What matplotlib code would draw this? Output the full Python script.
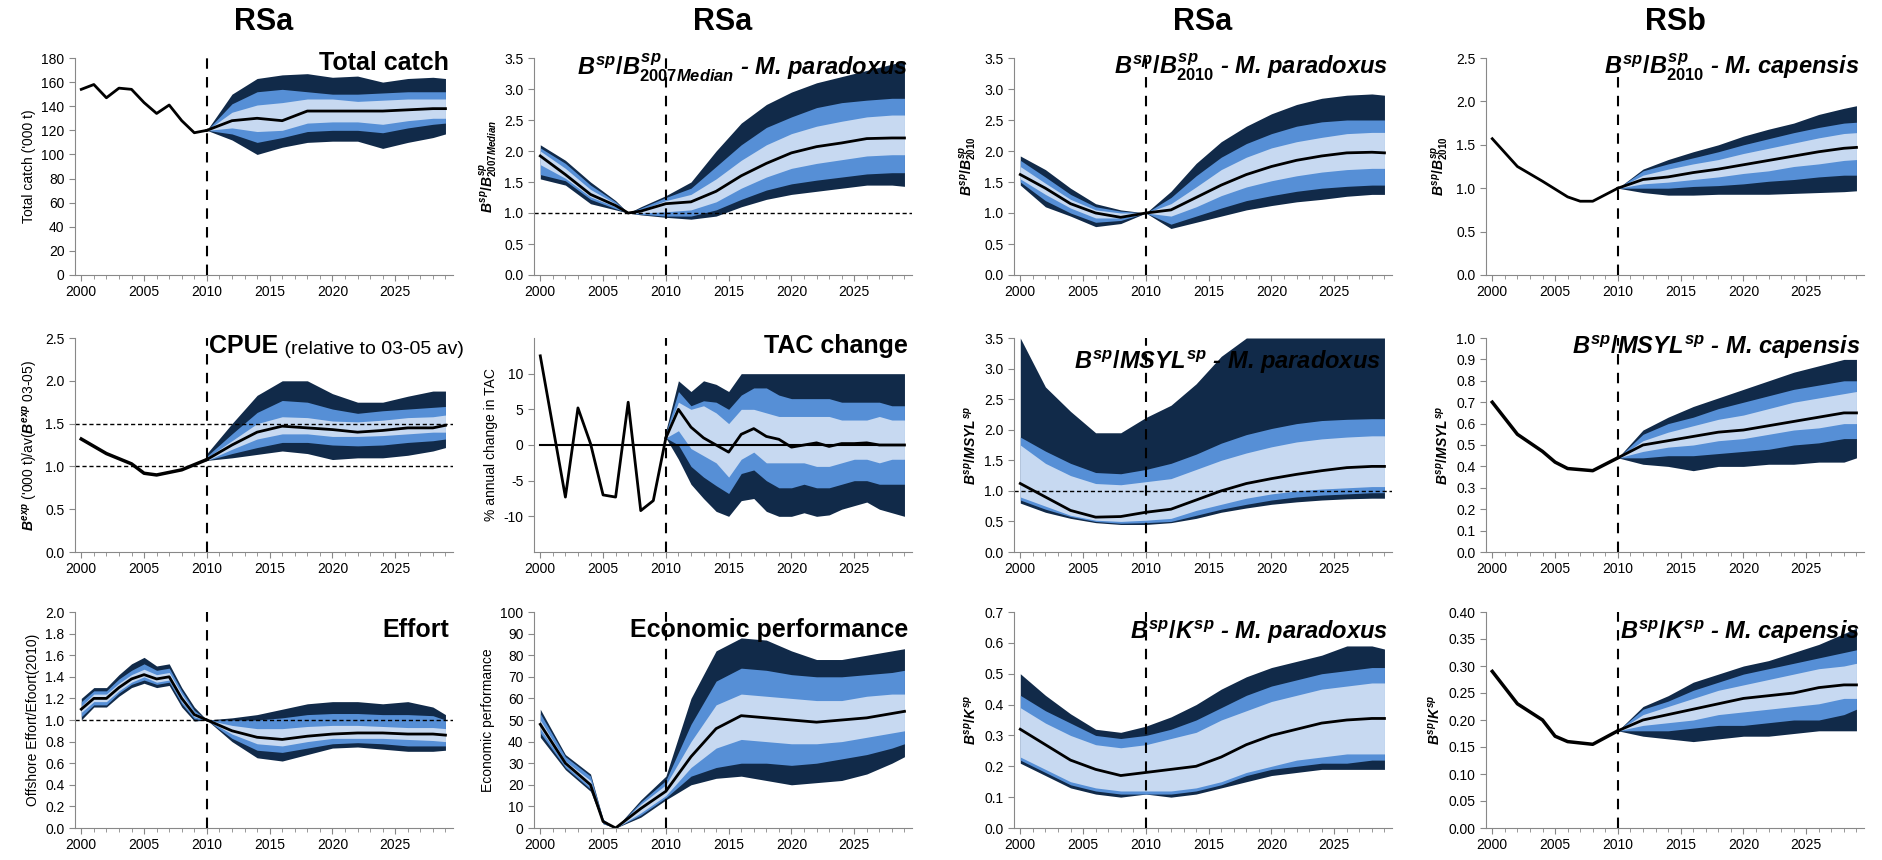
import matplotlib
matplotlib.use('Agg')
import matplotlib.pyplot as plt
import numpy as np

plt.rcParams['font.family'] = ['Liberation Sans', 'DejaVu Sans']
plt.rcParams['mathtext.fontset'] = 'custom'
plt.rcParams['mathtext.it'] = 'Liberation Sans:bold:italic'
plt.rcParams['mathtext.rm'] = 'Liberation Sans:bold'
plt.rcParams['mathtext.bf'] = 'Liberation Sans:bold'

DARK, MID, LIGHT = '#112a49', '#568fd6', '#c7d9f1'

# ---- data ----
P = [2010, 2012, 2014, 2016, 2018, 2020, 2022, 2024, 2026, 2028, 2029]
H1 = list(range(2000, 2011))
FULL = [2000, 2002, 2004, 2006, 2008, 2010, 2012, 2014, 2016, 2018, 2020, 2022, 2024, 2026, 2028, 2029]

# Total catch
catch_hist = [154, 158, 147, 155, 154, 143, 134, 141, 128, 118, 120]
catch_q = [[120, 112, 100, 106, 110, 111, 111, 105, 110, 114, 117],
           [120, 117, 110, 114, 119, 120, 120, 118, 122, 125, 126],
           [120, 122, 119, 120, 126, 127, 127, 125, 128, 130, 130],
           [120, 135, 141, 143, 146, 146, 144, 145, 146, 146, 146],
           [120, 142, 152, 154, 152, 150, 150, 151, 152, 152, 152],
           [120, 150, 163, 166, 167, 164, 165, 160, 163, 164, 163]]
catch_med = [120, 128, 130, 128, 136, 136, 136, 136, 137, 138, 138]

# Bsp/Bsp2007Median paradoxus
b07_yrs = [2000, 2002, 2004, 2006, 2007, 2008, 2010, 2012, 2014, 2016, 2018, 2020, 2022, 2024, 2026, 2028, 2029]
b07_med = [1.92, 1.62, 1.30, 1.12, 1.00, 1.03, 1.15, 1.18, 1.35, 1.60, 1.80, 1.97, 2.07, 2.13, 2.20, 2.21, 2.21]
b07_q = [[1.55, 1.45, 1.15, 1.05, 1.00, 0.97, 0.93, 0.90, 0.95, 1.10, 1.22, 1.30, 1.35, 1.40, 1.45, 1.45, 1.43],
         [1.62, 1.52, 1.22, 1.07, 1.00, 0.98, 0.95, 0.95, 1.05, 1.22, 1.37, 1.47, 1.53, 1.58, 1.63, 1.65, 1.65],
         [1.78, 1.56, 1.26, 1.10, 1.00, 1.00, 1.02, 1.05, 1.18, 1.40, 1.58, 1.72, 1.80, 1.86, 1.92, 1.94, 1.94],
         [2.00, 1.72, 1.38, 1.15, 1.00, 1.05, 1.20, 1.30, 1.55, 1.85, 2.10, 2.28, 2.40, 2.48, 2.55, 2.58, 2.58],
         [2.05, 1.80, 1.45, 1.18, 1.00, 1.08, 1.25, 1.40, 1.75, 2.10, 2.38, 2.55, 2.70, 2.78, 2.82, 2.85, 2.85],
         [2.10, 1.85, 1.50, 1.20, 1.00, 1.10, 1.28, 1.50, 2.00, 2.45, 2.75, 2.95, 3.10, 3.20, 3.30, 3.40, 3.45]]

# Bsp/Bsp2010 paradoxus
b10p_med = [1.62, 1.40, 1.15, 1.00, 0.93, 1.00, 1.05, 1.25, 1.45, 1.62, 1.75, 1.85, 1.92, 1.97, 1.98, 1.97]
b10p_q = [[1.45, 1.10, 0.95, 0.78, 0.83, 1.00, 0.75, 0.85, 0.95, 1.05, 1.12, 1.18, 1.22, 1.27, 1.30, 1.30],
          [1.50, 1.20, 1.00, 0.85, 0.88, 1.00, 0.82, 0.95, 1.08, 1.20, 1.28, 1.35, 1.40, 1.43, 1.45, 1.45],
          [1.55, 1.30, 1.08, 0.92, 0.92, 1.00, 0.95, 1.10, 1.28, 1.42, 1.52, 1.60, 1.66, 1.70, 1.72, 1.72],
          [1.75, 1.48, 1.22, 1.05, 1.00, 1.00, 1.15, 1.42, 1.70, 1.90, 2.05, 2.15, 2.22, 2.28, 2.30, 2.30],
          [1.85, 1.58, 1.30, 1.10, 1.03, 1.00, 1.25, 1.60, 1.90, 2.12, 2.28, 2.40, 2.47, 2.50, 2.50, 2.50],
          [1.92, 1.70, 1.40, 1.15, 1.05, 1.00, 1.35, 1.80, 2.15, 2.40, 2.60, 2.75, 2.85, 2.90, 2.92, 2.90]]

# Bsp/Bsp2010 capensis
b10c_hyrs = [2000, 2002, 2004, 2006, 2007, 2008, 2010]
b10c_hist = [1.57, 1.25, 1.08, 0.90, 0.85, 0.85, 1.00]
b10c_med = [1.0, 1.10, 1.13, 1.18, 1.22, 1.27, 1.32, 1.37, 1.42, 1.46, 1.47]
b10c_q = [[1.0, 0.95, 0.92, 0.92, 0.93, 0.93, 0.93, 0.94, 0.95, 0.96, 0.97],
          [1.0, 1.00, 1.00, 1.02, 1.03, 1.05, 1.08, 1.10, 1.13, 1.15, 1.15],
          [1.0, 1.05, 1.07, 1.10, 1.13, 1.17, 1.20, 1.25, 1.28, 1.32, 1.33],
          [1.0, 1.15, 1.22, 1.28, 1.33, 1.40, 1.46, 1.52, 1.58, 1.63, 1.64],
          [1.0, 1.20, 1.28, 1.35, 1.42, 1.50, 1.57, 1.64, 1.70, 1.75, 1.76],
          [1.0, 1.22, 1.33, 1.42, 1.50, 1.60, 1.68, 1.75, 1.85, 1.92, 1.95]]

# CPUE
cpue_hyrs = [2000, 2002, 2004, 2005, 2006, 2008, 2009, 2010]
cpue_hist = [1.32, 1.15, 1.03, 0.92, 0.90, 0.96, 1.02, 1.08]
cpue_med = [1.08, 1.25, 1.40, 1.47, 1.45, 1.43, 1.40, 1.42, 1.45, 1.45, 1.48]
cpue_q = [[1.07, 1.10, 1.14, 1.18, 1.15, 1.08, 1.10, 1.10, 1.13, 1.18, 1.22],
          [1.07, 1.15, 1.22, 1.28, 1.28, 1.25, 1.24, 1.25, 1.28, 1.30, 1.32],
          [1.07, 1.20, 1.32, 1.38, 1.38, 1.35, 1.35, 1.36, 1.38, 1.40, 1.40],
          [1.10, 1.30, 1.50, 1.58, 1.57, 1.53, 1.52, 1.54, 1.57, 1.58, 1.60],
          [1.12, 1.38, 1.63, 1.77, 1.75, 1.67, 1.62, 1.65, 1.67, 1.69, 1.70],
          [1.15, 1.50, 1.83, 2.00, 2.00, 1.85, 1.75, 1.75, 1.82, 1.88, 1.88]]

# TAC change
tac_hist = [12.5, 2.6, -7.3, 5.2, 0.2, -7.0, -7.3, 6.0, -9.2, -7.8, 1.0]
TP = list(range(2010, 2030))
tac_med = [1, 5, 2.5, 1, 0, -1, 1.5, 2.3, 1.2, 0.8, -0.3, 0, 0.3, -0.2, 0.2, 0.2, 0.3, 0, 0, 0]
tac_q = [[1, -2, -5.5, -7.5, -9.3, -10, -7.8, -7.5, -9.3, -10, -10, -9.5, -10, -9.8, -9, -8.5, -8, -9, -9.5, -10],
         [1, 0, -3, -4.5, -5.7, -6.8, -4, -3.5, -5, -6, -6, -5.5, -6, -6, -5.5, -5, -5, -5.5, -5.5, -5.5],
         [1, 2, -0.5, -1.5, -2.5, -4.5, -2, -1, -2.5, -2.5, -2.5, -2.5, -3, -3, -2.5, -2, -2, -2.5, -2, -2],
         [1.5, 6, 5, 5.5, 4.5, 3, 5, 5, 4.5, 4, 4, 4, 4, 4, 3.5, 3.5, 3.5, 4, 3.5, 3.5],
         [1.7, 7.5, 5.5, 6.2, 6, 5, 7, 8, 8, 7, 6.5, 6.5, 6.5, 6.5, 6, 6, 6, 6, 5.5, 5.5],
         [2, 9, 7.5, 9, 8.5, 7.5, 10, 10, 10, 10, 10, 10, 10, 10, 10, 10, 10, 10, 10, 10]]

# Bsp/MSYL paradoxus
msylp_med = [1.12, 0.90, 0.68, 0.57, 0.58, 0.65, 0.70, 0.85, 1.00, 1.12, 1.20, 1.27, 1.33, 1.38, 1.40, 1.40]
msylp_q = [[0.80, 0.65, 0.55, 0.48, 0.45, 0.45, 0.48, 0.55, 0.65, 0.72, 0.78, 0.82, 0.85, 0.87, 0.88, 0.88],
           [0.85, 0.70, 0.58, 0.50, 0.47, 0.48, 0.50, 0.60, 0.70, 0.78, 0.85, 0.90, 0.93, 0.95, 0.97, 0.97],
           [0.90, 0.75, 0.60, 0.52, 0.50, 0.52, 0.55, 0.68, 0.78, 0.88, 0.95, 1.00, 1.03, 1.05, 1.07, 1.07],
           [1.75, 1.45, 1.25, 1.12, 1.10, 1.15, 1.20, 1.35, 1.50, 1.62, 1.72, 1.80, 1.85, 1.88, 1.90, 1.90],
           [1.88, 1.65, 1.45, 1.30, 1.28, 1.35, 1.45, 1.60, 1.78, 1.92, 2.02, 2.10, 2.15, 2.17, 2.18, 2.18],
           [3.50, 2.70, 2.30, 1.95, 1.95, 2.20, 2.40, 2.75, 3.20, 3.50, 3.50, 3.50, 3.50, 3.50, 3.50, 3.50]]

# Bsp/MSYL capensis
msylc_hyrs = [2000, 2002, 2004, 2005, 2006, 2008, 2010]
msylc_hist = [0.70, 0.55, 0.47, 0.42, 0.39, 0.38, 0.44]
msylc_med = [0.44, 0.50, 0.52, 0.54, 0.56, 0.57, 0.59, 0.61, 0.63, 0.65, 0.65]
msylc_q = [[0.44, 0.41, 0.40, 0.38, 0.40, 0.40, 0.41, 0.41, 0.42, 0.42, 0.44],
           [0.44, 0.44, 0.45, 0.45, 0.46, 0.47, 0.48, 0.50, 0.51, 0.53, 0.53],
           [0.44, 0.47, 0.49, 0.50, 0.52, 0.53, 0.55, 0.57, 0.58, 0.60, 0.60],
           [0.44, 0.52, 0.56, 0.59, 0.62, 0.64, 0.67, 0.70, 0.72, 0.74, 0.75],
           [0.44, 0.55, 0.60, 0.63, 0.67, 0.70, 0.73, 0.76, 0.78, 0.80, 0.80],
           [0.44, 0.57, 0.63, 0.68, 0.72, 0.76, 0.80, 0.84, 0.87, 0.90, 0.90]]

# Effort
eff_med_h = [1.10, 1.20, 1.20, 1.30, 1.38, 1.42, 1.38, 1.40, 1.20, 1.05, 1.00]
eff_q_h = [[1.00, 1.12, 1.12, 1.22, 1.30, 1.34, 1.30, 1.32, 1.12, 0.99, 1.00],
           [1.03, 1.14, 1.14, 1.25, 1.33, 1.37, 1.33, 1.35, 1.15, 1.01, 1.00],
           [1.07, 1.17, 1.17, 1.27, 1.35, 1.40, 1.35, 1.37, 1.17, 1.03, 1.00],
           [1.13, 1.24, 1.24, 1.34, 1.42, 1.47, 1.42, 1.44, 1.24, 1.07, 1.00],
           [1.17, 1.27, 1.27, 1.38, 1.46, 1.52, 1.46, 1.48, 1.27, 1.09, 1.00],
           [1.20, 1.30, 1.30, 1.42, 1.52, 1.58, 1.50, 1.52, 1.30, 1.12, 1.00]]
eff_med = [1.0, 0.90, 0.84, 0.82, 0.85, 0.87, 0.88, 0.88, 0.87, 0.87, 0.86]
eff_q = [[1.0, 0.80, 0.65, 0.62, 0.68, 0.74, 0.75, 0.73, 0.71, 0.71, 0.72],
         [1.0, 0.83, 0.72, 0.70, 0.74, 0.78, 0.79, 0.78, 0.76, 0.76, 0.76],
         [1.0, 0.87, 0.78, 0.76, 0.80, 0.83, 0.83, 0.83, 0.82, 0.81, 0.80],
         [1.0, 0.95, 0.92, 0.92, 0.94, 0.95, 0.95, 0.94, 0.93, 0.93, 0.92],
         [1.0, 1.00, 1.00, 1.02, 1.05, 1.06, 1.06, 1.05, 1.05, 1.04, 1.00],
         [1.0, 1.02, 1.05, 1.10, 1.15, 1.17, 1.17, 1.15, 1.17, 1.12, 1.05]]

# Economic performance
eco_yrs = [2000, 2002, 2004, 2005, 2006, 2008, 2010, 2012, 2014, 2016, 2018, 2020, 2022, 2024, 2026, 2028, 2029]
eco_med = [48, 30, 20, 3, 0, 9, 17, 33, 46, 52, 51, 50, 49, 50, 51, 53, 54]
eco_q = [[42, 27, 17, 2, 0, 5, 13, 20, 23, 24, 22, 20, 21, 22, 25, 30, 33],
         [44, 28, 18, 2, 0, 6, 14, 24, 28, 30, 30, 29, 30, 32, 34, 37, 39],
         [46, 29, 19, 3, 0, 7, 15, 28, 37, 41, 40, 39, 39, 40, 42, 44, 45],
         [50, 31, 22, 3, 0, 11, 20, 40, 57, 62, 61, 60, 59, 59, 61, 62, 62],
         [53, 33, 24, 4, 0, 12, 22, 48, 68, 74, 73, 71, 70, 70, 71, 72, 73],
         [55, 34, 25, 4, 0, 13, 24, 60, 82, 88, 87, 82, 78, 78, 80, 82, 83]]

# Bsp/Ksp paradoxus
kp_med = [0.32, 0.27, 0.22, 0.19, 0.17, 0.18, 0.19, 0.20, 0.23, 0.27, 0.30, 0.32, 0.34, 0.35, 0.355, 0.355]
kp_q = [[0.21, 0.17, 0.13, 0.11, 0.10, 0.11, 0.10, 0.11, 0.13, 0.15, 0.17, 0.18, 0.19, 0.19, 0.19, 0.19],
        [0.22, 0.18, 0.14, 0.12, 0.11, 0.11, 0.11, 0.12, 0.14, 0.17, 0.19, 0.20, 0.21, 0.21, 0.22, 0.22],
        [0.23, 0.19, 0.15, 0.13, 0.12, 0.12, 0.12, 0.13, 0.15, 0.18, 0.20, 0.22, 0.23, 0.24, 0.24, 0.24],
        [0.39, 0.34, 0.30, 0.27, 0.26, 0.27, 0.29, 0.31, 0.35, 0.38, 0.41, 0.43, 0.45, 0.46, 0.47, 0.47],
        [0.43, 0.38, 0.34, 0.30, 0.29, 0.30, 0.32, 0.35, 0.39, 0.43, 0.46, 0.48, 0.50, 0.51, 0.52, 0.52],
        [0.50, 0.43, 0.37, 0.32, 0.31, 0.33, 0.36, 0.40, 0.45, 0.49, 0.52, 0.54, 0.56, 0.59, 0.59, 0.58]]

# Bsp/Ksp capensis
kc_hyrs = [2000, 2002, 2004, 2005, 2006, 2008, 2010]
kc_hist = [0.29, 0.23, 0.20, 0.17, 0.16, 0.155, 0.18]
kc_med = [0.18, 0.20, 0.21, 0.22, 0.23, 0.24, 0.245, 0.25, 0.26, 0.265, 0.265]
kc_q = [[0.18, 0.17, 0.165, 0.16, 0.165, 0.17, 0.17, 0.175, 0.18, 0.18, 0.18],
        [0.18, 0.18, 0.18, 0.185, 0.19, 0.19, 0.195, 0.20, 0.20, 0.21, 0.22],
        [0.18, 0.19, 0.195, 0.20, 0.21, 0.215, 0.22, 0.225, 0.23, 0.24, 0.24],
        [0.18, 0.21, 0.225, 0.24, 0.255, 0.265, 0.275, 0.285, 0.295, 0.30, 0.305],
        [0.18, 0.22, 0.235, 0.255, 0.27, 0.285, 0.295, 0.305, 0.315, 0.325, 0.33],
        [0.18, 0.225, 0.245, 0.27, 0.285, 0.30, 0.31, 0.325, 0.34, 0.36, 0.37]]


def fan(ax, yrs, q, med):
    ax.fill_between(yrs, q[0], q[5], color=DARK, lw=0)
    ax.fill_between(yrs, q[1], q[4], color=MID, lw=0)
    ax.fill_between(yrs, q[2], q[3], color=LIGHT, lw=0)
    ax.plot(yrs, med, color='black', lw=2)


def style(ax, ylim, ystep, ylabel, fmt='{:.1f}', yticks=None):
    ax.set_xlim(1999.5, 2029.6)
    ax.set_ylim(*ylim)
    ax.set_xticks(range(2000, 2030, 5))
    ax.set_xticks(range(2000, 2030), minor=True)
    if yticks is None:
        yticks = np.arange(ylim[0], ylim[1] + ystep / 2, ystep)
    ax.set_yticks(yticks)
    ax.set_yticklabels([fmt.format(v) for v in yticks])
    for s in ['top', 'right']:
        ax.spines[s].set_visible(False)
    for s in ['left', 'bottom']:
        ax.spines[s].set_color('#888888')
    ax.tick_params(labelsize=10, length=4, color='#888888')
    ax.tick_params(which='minor', length=3, color='#888888')
    ax.set_ylabel(ylabel, fontsize=10, labelpad=4)
    ax.axvline(2010, color='black', ls=(0, (5, 4)), lw=1.5, zorder=5)


def title(ax, txt, italic=False, x=0.99, ha='right', y=0.97, size=18):
    ax.text(x, y, txt, transform=ax.transAxes, ha=ha, va='top', fontsize=size,
            fontweight='bold', fontstyle='italic' if italic else 'normal', zorder=6)


fig = plt.figure(figsize=(18.83, 8.6), dpi=100)
W, H = 1883, 860
cols = [75, 534, 1014, 1486]
rows = [(58, 275), (338, 552), (612, 828)]
axs = [[fig.add_axes([c / W, 1 - b / H, 378 / W, (b - t) / H]) for c in cols] for t, b in rows]

for c, lab in zip(cols, ['RSa', 'RSa', 'RSa', 'RSb']):
    fig.text((c + 189) / W, 1 - 22 / H, lab, ha='center', va='center', fontsize=22, fontweight='bold')

# row 1
ax = axs[0][0]
fan(ax, P, catch_q, catch_med)
ax.plot(H1, catch_hist, color='black', lw=2)
style(ax, (0, 180), 20, "Total catch ('000 t)", fmt='{:.0f}')
title(ax, 'Total catch', y=1.03)

ax = axs[0][1]
fan(ax, b07_yrs, b07_q, b07_med)
ax.axhline(1.0, color='black', ls=(0, (3, 2)), lw=1)
style(ax, (0, 3.5), 0.5, r'$B^{sp}\mathrm{/}B^{sp}_{2007Median}$')
title(ax, r'$B^{sp}\mathrm{/}B^{sp}_{2007Median}$ - M. paradoxus', italic=True, y=1.03, size=17)

ax = axs[0][2]
fan(ax, FULL, b10p_q, b10p_med)
style(ax, (0, 3.5), 0.5, r'$B^{sp}\mathrm{/}B^{sp}_{2010}$')
title(ax, r'$B^{sp}\mathrm{/}B^{sp}_{2010}$ - M. paradoxus', italic=True, y=1.03, size=17)

ax = axs[0][3]
fan(ax, P, b10c_q, b10c_med)
ax.plot(b10c_hyrs, b10c_hist, color='black', lw=2)
style(ax, (0, 2.5), 0.5, r'$B^{sp}\mathrm{/}B^{sp}_{2010}$')
title(ax, r'$B^{sp}\mathrm{/}B^{sp}_{2010}$ - M. capensis', italic=True, y=1.03, size=17)

# row 2
ax = axs[1][0]
fan(ax, P, cpue_q, cpue_med)
ax.plot(cpue_hyrs, cpue_hist, color='black', lw=2.5)
ax.axhline(1.0, color='black', ls=(0, (3, 2)), lw=1)
ax.axhline(1.5, color='black', ls=(0, (3, 2)), lw=1)
style(ax, (0, 2.5), 0.5, r"$B^{exp}$ ('000 t)/av($B^{exp}$ 03-05)")
t = ax.text(2010.2, 2.55, 'CPUE', ha='left', va='top', fontsize=18, fontweight='bold')
ax.annotate(' (relative to 03-05 av)', xy=(1, 0), xycoords=t, ha='left', va='bottom', fontsize=14)

ax = axs[1][1]
fan(ax, TP, tac_q, tac_med)
ax.plot(H1, tac_hist, color='black', lw=2)
ax.plot([2000, 2029], [0, 0], color='black', lw=1.5)
style(ax, (-15, 15), 5, '% annual change in TAC', fmt='{:.0f}', yticks=[-10, -5, 0, 5, 10])
title(ax, 'TAC change', y=1.02)

ax = axs[1][2]
fan(ax, FULL, msylp_q, msylp_med)
ax.axhline(1.0, color='black', ls=(0, (3, 2)), lw=1)
style(ax, (0, 3.5), 0.5, r'$B^{sp}\mathrm{/}MSYL^{sp}$')
title(ax, r'$B^{sp}\mathrm{/}MSYL^{sp}$ - M. paradoxus', italic=True, x=0.97, y=0.95, size=17)

ax = axs[1][3]
fan(ax, P, msylc_q, msylc_med)
ax.plot(msylc_hyrs, msylc_hist, color='black', lw=2.5)
style(ax, (0, 1.0), 0.1, r'$B^{sp}\mathrm{/}MSYL^{sp}$')
title(ax, r'$B^{sp}\mathrm{/}MSYL^{sp}$ - M. capensis', italic=True, y=1.02, size=17)

# row 3
ax = axs[2][0]
fan(ax, H1, eff_q_h, eff_med_h)
fan(ax, P, eff_q, eff_med)
ax.axhline(1.0, color='black', ls=(0, (3, 2)), lw=1)
style(ax, (0, 2.0), 0.2, 'Offshore Effort/Efoort(2010)')
title(ax, 'Effort', y=0.97)

ax = axs[2][1]
fan(ax, eco_yrs, eco_q, eco_med)
style(ax, (0, 100), 10, 'Economic performance', fmt='{:.0f}')
title(ax, 'Economic performance', y=0.97)

ax = axs[2][2]
fan(ax, FULL, kp_q, kp_med)
style(ax, (0, 0.7), 0.1, r'$B^{sp}\mathrm{/}K^{sp}$')
title(ax, r'$B^{sp}\mathrm{/}K^{sp}$ - M. paradoxus', italic=True, y=0.97, size=17)

ax = axs[2][3]
fan(ax, P, kc_q, kc_med)
ax.plot(kc_hyrs, kc_hist, color='black', lw=2.5)
style(ax, (0, 0.4), 0.05, r'$B^{sp}\mathrm{/}K^{sp}$', fmt='{:.2f}')
title(ax, r'$B^{sp}\mathrm{/}K^{sp}$ - M. capensis', italic=True, y=0.97, size=17)

fig.savefig('out.png', dpi=100)
